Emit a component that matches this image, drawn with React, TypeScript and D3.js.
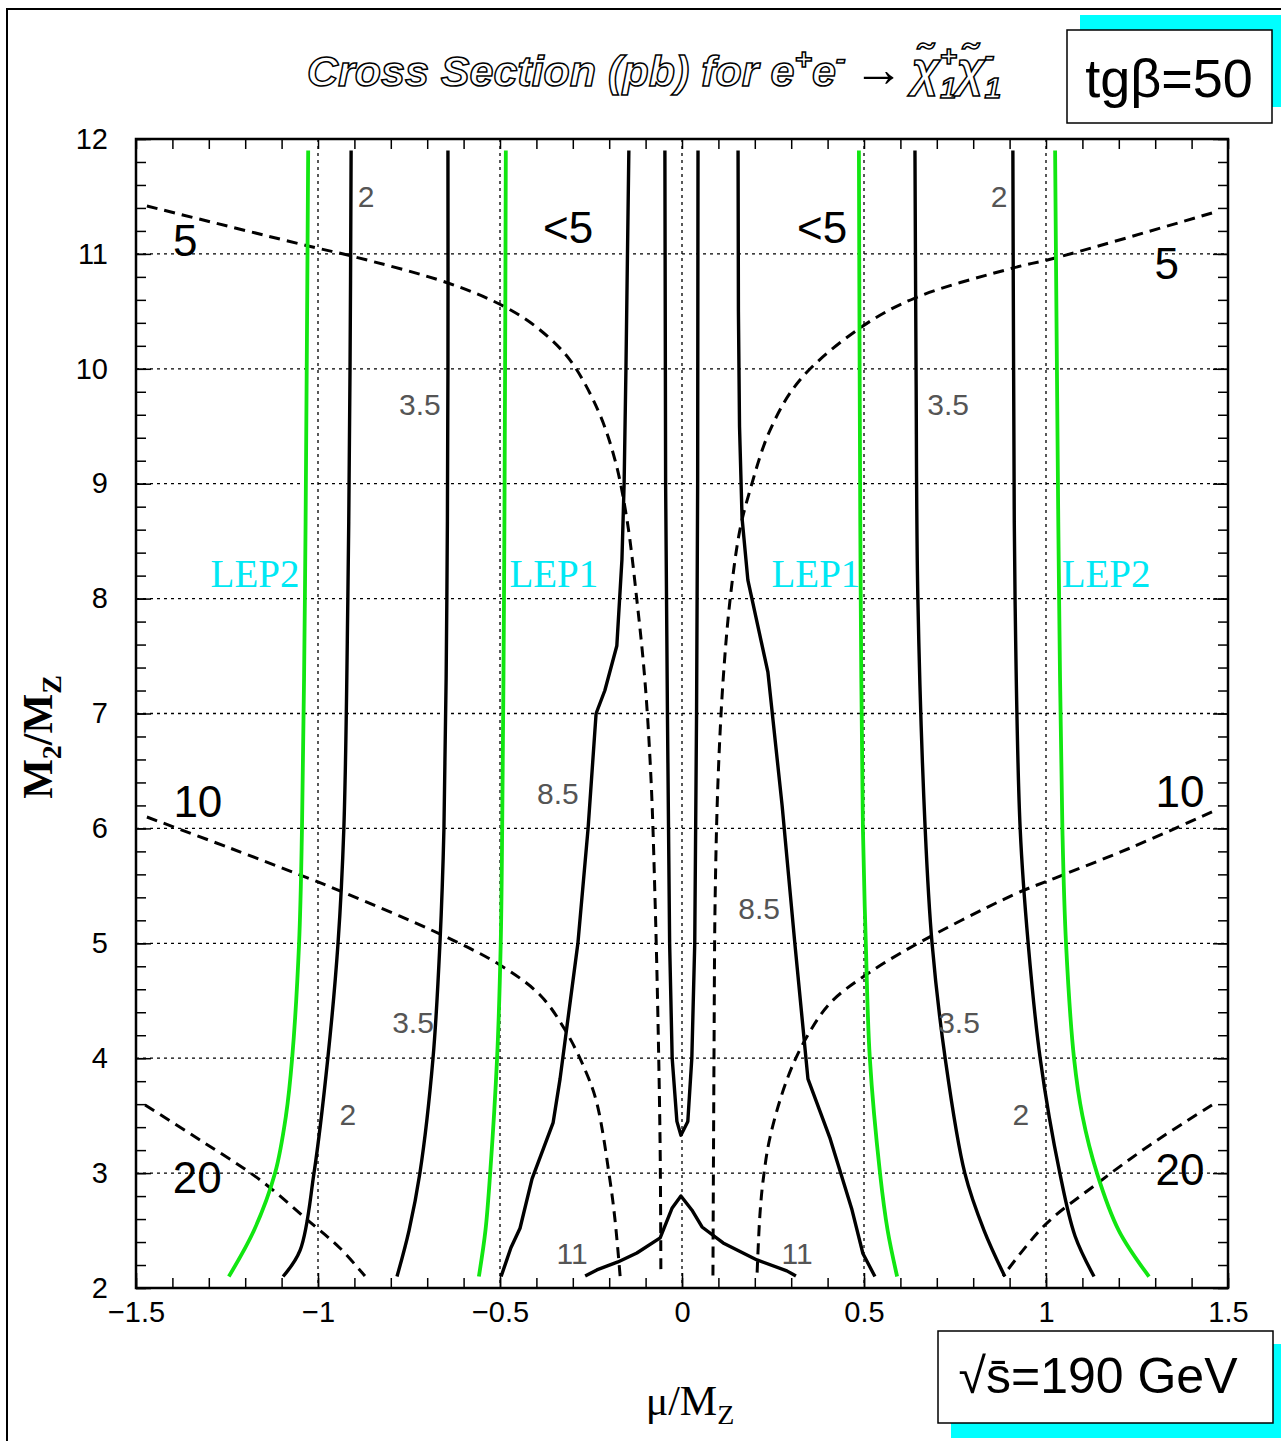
import React, { useRef, useEffect } from 'react';
import * as d3 from 'd3';

// --- DATA (mu/MZ, M2/MZ) ---
type Pt = [number, number];

const muTicksMajor = [-1.5, -1, -0.5, 0, 0.5, 1, 1.5];
const m2TicksMajor = [2, 3, 4, 5, 6, 7, 8, 9, 10, 11, 12];
const muGrid = [-1, -0.5, 0, 0.5, 1];
const m2Grid = [3, 4, 5, 6, 7, 8, 9, 10, 11];

// LEP kinematic limits (green)
const lep2Left: Pt[] = [[-1.245, 2.1], [-1.176, 2.5], [-1.118, 3], [-1.088, 3.5], [-1.071, 4], [-1.052, 5], [-1.044, 6], [-1.036, 8], [-1.031, 10], [-1.027, 11.9]];
const lep2Right: Pt[] = [[1.283, 2.1], [1.2, 2.5], [1.14, 3], [1.1, 3.5], [1.077, 4], [1.055, 5], [1.045, 6], [1.036, 8], [1.03, 10], [1.025, 11.9]];
const lep1Left: Pt[] = [[-0.558, 2.1], [-0.54, 2.5], [-0.527, 3], [-0.508, 4], [-0.498, 5], [-0.494, 6], [-0.489, 8], [-0.486, 10], [-0.484, 11.9]];
const lep1Right: Pt[] = [[0.591, 2.1], [0.565, 2.5], [0.544, 3], [0.516, 4], [0.505, 5], [0.497, 6], [0.491, 8], [0.488, 10], [0.486, 11.9]];

// cross section contours (solid)
const sigma2Left: Pt[] = [[-1.096, 2.1], [-1.049, 2.33], [-1.011, 3], [-0.973, 4], [-0.945, 5], [-0.929, 6], [-0.918, 8], [-0.912, 10], [-0.909, 11.9]];
const sigma2Right: Pt[] = [[1.132, 2.1], [1.08, 2.45], [1.038, 3], [0.984, 4], [0.951, 5], [0.929, 6], [0.915, 8], [0.911, 10], [0.909, 11.9]];
const sigma35Left: Pt[] = [[-0.783, 2.1], [-0.75, 2.5], [-0.72, 3], [-0.684, 4], [-0.665, 5], [-0.654, 6], [-0.646, 8], [-0.643, 10], [-0.643, 11.9]];
const sigma35Right: Pt[] = [[0.887, 2.1], [0.83, 2.5], [0.777, 3], [0.723, 4], [0.687, 5], [0.668, 6], [0.648, 8], [0.643, 10], [0.64, 11.9]];
const sigma85Left: Pt[] = [[-0.497, 2.1], [-0.47, 2.35], [-0.445, 2.52], [-0.412, 2.95], [-0.354, 3.44], [-0.335, 3.82], [-0.286, 5], [-0.258, 6], [-0.236, 7], [-0.212, 7.2], [-0.179, 7.59], [-0.165, 8.34], [-0.159, 9], [-0.154, 10], [-0.146, 11.9]];
const sigma85Right: Pt[] = [[0.53, 2.1], [0.497, 2.3], [0.467, 2.68], [0.407, 3.3], [0.346, 3.82], [0.31, 5], [0.275, 6.2], [0.236, 7.36], [0.181, 8.16], [0.165, 8.7], [0.158, 9.5], [0.155, 10.5], [0.154, 11.9]];
const sigmaCenter: Pt[] = [[-0.047, 11.9], [-0.045, 9], [-0.04, 7], [-0.034, 5], [-0.027, 4], [-0.014, 3.45], [-0.003, 3.33], [0.016, 3.45], [0.027, 4], [0.035, 5], [0.04, 7], [0.043, 9], [0.044, 11.9]];
const sigma11: Pt[] = [[-0.266, 2.104], [-0.234, 2.157], [-0.176, 2.227], [-0.124, 2.305], [-0.06, 2.436], [-0.027, 2.697], [-0.003, 2.801], [0.027, 2.679], [0.055, 2.531], [0.113, 2.392], [0.206, 2.244], [0.288, 2.149], [0.313, 2.104]];

// dashed contours
const dash5Left: Pt[] = [[-1.47, 11.417], [-1.027, 11.069], [-0.909, 10.982], [-0.643, 10.747], [-0.486, 10.538], [-0.39, 10.338], [-0.308, 10.077], [-0.231, 9.641], [-0.184, 9.206], [-0.151, 8.684], [-0.124, 7.988], [-0.102, 7.292], [-0.085, 6.421], [-0.074, 5.377], [-0.066, 4.332], [-0.06, 3.201], [-0.058, 2.104]];
const dash5Right: Pt[] = [[1.456, 11.356], [1.025, 10.964], [0.909, 10.877], [0.64, 10.616], [0.489, 10.355], [0.324, 9.903], [0.242, 9.467], [0.187, 8.945], [0.159, 8.597], [0.132, 7.988], [0.113, 7.292], [0.099, 6.421], [0.091, 5.377], [0.088, 4.071], [0.085, 2.104]];
const dash10Left: Pt[] = [[-1.47, 6.099], [-1.242, 5.829], [-1.0, 5.534], [-0.926, 5.438], [-0.659, 5.072], [-0.5, 4.811], [-0.39, 4.55], [-0.321, 4.245], [-0.266, 3.897], [-0.234, 3.61], [-0.198, 2.94], [-0.184, 2.592], [-0.17, 2.104]];
const dash10Right: Pt[] = [[1.456, 6.143], [1.231, 5.829], [1.025, 5.568], [0.909, 5.42], [0.64, 4.985], [0.505, 4.724], [0.407, 4.48], [0.338, 4.158], [0.288, 3.81], [0.242, 3.314], [0.223, 2.94], [0.214, 2.635], [0.206, 2.104]];
const dash20Left: Pt[] = [[-1.475, 3.593], [-1.324, 3.288], [-1.159, 2.94], [-1.022, 2.574], [-0.94, 2.348], [-0.871, 2.104]];
const dash20Right: Pt[] = [[1.456, 3.593], [1.286, 3.245], [1.135, 2.896], [0.997, 2.548], [0.882, 2.104]];

// labels, placed in data coordinates
const bigLabels: [string, number, number][] = [
  ['5', -1.365, 11.12], ['5', 1.332, 10.92], ['10', -1.33, 6.23], ['10', 1.368, 6.32],
  ['20', -1.332, 2.96], ['20', 1.368, 3.03], ['<5', -0.313, 11.23], ['<5', 0.385, 11.23],
];
const smallLabels: [string, number, number][] = [
  ['2', -0.868, 11.5], ['2', 0.871, 11.5], ['2', -0.918, 3.51], ['2', 0.931, 3.51],
  ['3.5', -0.72, 9.69], ['3.5', 0.731, 9.69], ['3.5', -0.739, 4.31], ['3.5', 0.761, 4.31],
  ['8.5', -0.341, 6.3], ['8.5', 0.212, 5.3], ['11', -0.302, 2.3], ['11', 0.316, 2.3],
];
const lepLabels: [string, number, number][] = [
  ['LEP2', -1.173, 8.22], ['LEP1', -0.352, 8.22], ['LEP1', 0.368, 8.22], ['LEP2', 1.165, 8.22],
];

const SANS = '"Liberation Sans", Arial, sans-serif';
const SERIF = '"Liberation Serif", "Times New Roman", serif';

export default function App() {
  const svgRef = useRef<SVGSVGElement>(null);

  useEffect(() => {
    if (!svgRef.current) return;
    const svg = d3.select(svgRef.current);
    svg.selectAll('*').remove();

    const left = 136, right = 1228, top = 139, bottom = 1288;
    const x = d3.scaleLinear().domain([-1.5, 1.5]).range([left, right]);
    const y = d3.scaleLinear().domain([2, 12]).range([bottom, top]);

    const muMinor = d3.range(-15, 16).map(v => v / 10);
    const m2Minor = d3.range(10, 61).map(v => v / 5);

    // outer frame
    svg.append('rect').attr('x', 7).attr('y', 9).attr('width', 1300).attr('height', 1460)
      .attr('fill', 'white').attr('stroke', 'black').attr('stroke-width', 2);

    // grid
    const grid = svg.append('g').attr('stroke', 'black').attr('stroke-width', 1.3).attr('stroke-dasharray', '3 4');
    muGrid.forEach(v => grid.append('line').attr('x1', x(v)).attr('x2', x(v)).attr('y1', top).attr('y2', bottom));
    m2Grid.forEach(v => grid.append('line').attr('y1', y(v)).attr('y2', y(v)).attr('x1', left).attr('x2', right));

    // axes, ticks inside
    const cleanAxis = (g: d3.Selection<SVGGElement, unknown, null, undefined>) => {
      g.select('.domain').remove();
      g.selectAll('.tick line').attr('stroke', 'black').attr('stroke-width', 1.5);
    };
    svg.append('g').attr('transform', `translate(0,${bottom})`)
      .call(d3.axisBottom(x).tickValues(muMinor).tickSize(-10).tickFormat(() => '')).call(cleanAxis);
    svg.append('g').attr('transform', `translate(0,${top})`)
      .call(d3.axisTop(x).tickValues(muMinor).tickSize(-10).tickFormat(() => '')).call(cleanAxis);
    svg.append('g').attr('transform', `translate(${left},0)`)
      .call(d3.axisLeft(y).tickValues(m2Minor).tickSize(-10).tickFormat(() => '')).call(cleanAxis);
    svg.append('g').attr('transform', `translate(${right},0)`)
      .call(d3.axisRight(y).tickValues(m2Minor).tickSize(-10).tickFormat(() => '')).call(cleanAxis);

    const xAxis = svg.append('g').attr('transform', `translate(0,${bottom})`)
      .call(d3.axisBottom(x).tickValues(muTicksMajor).tickSize(-15).tickPadding(13).tickFormat(d3.format('')));
    cleanAxis(xAxis);
    xAxis.selectAll('text').attr('fill', 'black').style('font-size', '29px').style('font-family', SANS);
    const yAxis = svg.append('g').attr('transform', `translate(${left},0)`)
      .call(d3.axisLeft(y).tickValues(m2TicksMajor).tickSize(-15).tickPadding(28).tickFormat(d3.format('')));
    cleanAxis(yAxis);
    yAxis.selectAll('text').attr('fill', 'black').style('font-size', '29px').style('font-family', SANS);
    svg.append('g').attr('transform', `translate(${right},0)`)
      .call(d3.axisRight(y).tickValues(m2TicksMajor).tickSize(-15).tickFormat(() => '')).call(cleanAxis);

    // curves
    const smooth = d3.line<Pt>().x(d => x(d[0])).y(d => y(d[1])).curve(d3.curveCatmullRom.alpha(0.5));
    const straight = d3.line<Pt>().x(d => x(d[0])).y(d => y(d[1]));
    const curves = svg.append('g').attr('fill', 'none').attr('stroke-linejoin', 'round');

    [dash5Left, dash5Right, dash10Left, dash10Right, dash20Left, dash20Right].forEach(c =>
      curves.append('path').attr('d', smooth(c)).attr('stroke', 'black').attr('stroke-width', 3).attr('stroke-dasharray', '11 7'));

    [sigma2Left, sigma2Right, sigma35Left, sigma35Right].forEach(c =>
      curves.append('path').attr('d', smooth(c)).attr('stroke', 'black').attr('stroke-width', 3.4));
    [sigma85Left, sigma85Right, sigmaCenter, sigma11].forEach(c =>
      curves.append('path').attr('d', straight(c)).attr('stroke', 'black').attr('stroke-width', 3.4));

    [lep2Left, lep2Right, lep1Left, lep1Right].forEach(c =>
      curves.append('path').attr('d', smooth(c)).attr('stroke', '#11e611').attr('stroke-width', 3.8));

    // plot frame
    svg.append('rect').attr('x', left).attr('y', top).attr('width', right - left).attr('height', bottom - top)
      .attr('fill', 'none').attr('stroke', 'black').attr('stroke-width', 2.5);

    // labels
    bigLabels.forEach(([t, mu, m]) => svg.append('text').attr('x', x(mu)).attr('y', y(m))
      .attr('text-anchor', 'middle').attr('dominant-baseline', 'central')
      .style('font-family', SANS).style('font-size', '44px').attr('fill', 'black').text(t));
    smallLabels.forEach(([t, mu, m]) => svg.append('text').attr('x', x(mu)).attr('y', y(m))
      .attr('text-anchor', 'middle').attr('dominant-baseline', 'central')
      .style('font-family', SANS).style('font-size', '30px').attr('fill', '#555').text(t));
    lepLabels.forEach(([t, mu, m]) => svg.append('text').attr('x', x(mu)).attr('y', y(m))
      .attr('text-anchor', 'middle').attr('dominant-baseline', 'central')
      .style('font-family', SERIF).style('font-size', '39px').attr('fill', '#00e8f4').text(t));

    // axis titles
    const xt = svg.append('text').attr('x', 690).attr('y', 1415).attr('text-anchor', 'middle')
      .style('font-family', SERIF).style('font-size', '42px').attr('fill', 'black');
    xt.append('tspan').text('μ/M');
    xt.append('tspan').attr('dy', 9).style('font-size', '28px').text('Z');

    const yt = svg.append('text').attr('transform', 'translate(52,737) rotate(-90)').attr('text-anchor', 'middle')
      .style('font-family', SERIF).style('font-size', '42px').style('font-weight', 'bold').attr('fill', 'black');
    yt.append('tspan').text('M');
    yt.append('tspan').attr('dy', 9).style('font-size', '28px').text('2');
    yt.append('tspan').attr('dy', -9).text('/M');
    yt.append('tspan').attr('dy', 9).style('font-size', '28px').text('Z');

    // title (outlined italic)
    const title = svg.append('text').attr('x', 307).attr('y', 86)
      .style('font-family', SANS).style('font-size', '43px').style('font-style', 'italic').style('font-weight', 'bold')
      .attr('fill', 'white').attr('stroke', 'black').attr('stroke-width', 1.5);
    title.append('tspan').text('Cross Section (pb) for e');
    title.append('tspan').attr('dy', -17).style('font-size', '30px').text('+');
    title.append('tspan').attr('dy', 17).text('e');
    title.append('tspan').attr('dy', -17).style('font-size', '30px').text('-');
    title.append('tspan').attr('dy', 17).attr('dx', 8).attr('fill', 'black').attr('stroke', 'none')
      .style('font-weight', 'normal').style('font-style', 'normal').style('font-size', '50px').text('→');
    title.append('tspan').attr('dx', 8).style('font-size', '48px').text('χ\u0303');
    title.append('tspan').attr('dy', -20).style('font-size', '30px').text('+');
    title.append('tspan').attr('dx', -17).attr('dy', 32).style('font-size', '30px').text('1');
    title.append('tspan').attr('dy', -12).style('font-size', '48px').text('χ\u0303');
    title.append('tspan').attr('dy', -20).style('font-size', '30px').text('-');
    title.append('tspan').attr('dx', -10).attr('dy', 32).style('font-size', '30px').text('1');

    // tg beta box
    svg.append('rect').attr('x', 1080).attr('y', 15).attr('width', 210).attr('height', 92).attr('fill', '#00ffff');
    svg.append('rect').attr('x', 1067).attr('y', 30).attr('width', 205).attr('height', 93)
      .attr('fill', 'white').attr('stroke', 'black').attr('stroke-width', 1.5);
    svg.append('text').attr('x', 1169).attr('y', 97).attr('text-anchor', 'middle')
      .style('font-family', SANS).style('font-size', '54px').attr('fill', 'black').text('tgβ=50');

    // sqrt s box
    svg.append('rect').attr('x', 951).attr('y', 1344).attr('width', 340).attr('height', 94).attr('fill', '#00ffff');
    svg.append('rect').attr('x', 938).attr('y', 1331).attr('width', 335).attr('height', 92)
      .attr('fill', 'white').attr('stroke', 'black').attr('stroke-width', 1.5);
    svg.append('text').attr('x', 1098).attr('y', 1393).attr('text-anchor', 'middle')
      .style('font-family', SANS).style('font-size', '50px').attr('fill', 'black').text('√s\u0304=190 GeV');
  }, []);

  return (
    <svg ref={svgRef} width={1281} height={1441}
      style={{ position: 'absolute', left: 0, top: 0, background: 'white' }} />
  );
}
